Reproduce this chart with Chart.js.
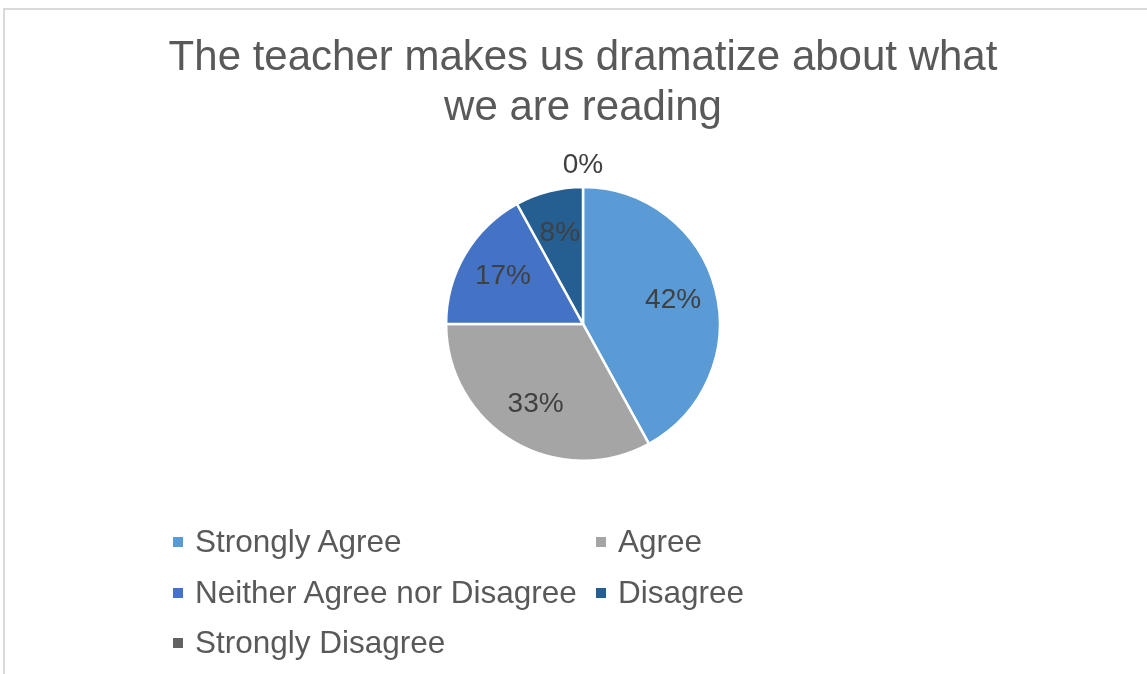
<!DOCTYPE html>
<html>
<head>
<meta charset="utf-8">
<script src="https://cdn.jsdelivr.net/npm/chart.js@4.4.0/dist/chart.umd.min.js"></script>
<style>
  body { margin: 0; background: #fff; font-family: "Liberation Sans", Arial, sans-serif; }
  #wrap { position: relative; width: 1147px; height: 674px; overflow: hidden; }
  #frame { position: absolute; left: 3px; top: 8px; width: 1160px; height: 700px; border: 2px solid #d9d9d9; box-sizing: border-box; }
  canvas { position: absolute; left: 0; top: 0; }
  .leg { position: absolute; font-size: 31.5px; color: #595959; white-space: nowrap; line-height: 32px; }
  .leg span.box { display: inline-block; width: 10px; height: 10px; margin-right: 12px; vertical-align: middle; position: relative; top: -2px; }
</style>
</head>
<body>
<div id="wrap">
  <div id="frame"></div>
  <canvas id="myChart" width="1147" height="674"></canvas>
  <div id="legend"></div>
</div>
<script>
const title = ["The teacher makes us dramatize about what", "we are reading"];
const labels = ["Strongly Agree", "Agree", "Neither Agree nor Disagree", "Disagree", "Strongly Disagree"];
const values = [42, 33, 17, 8, 0];
const colors = ["#5b9bd5", "#a5a5a5", "#4472c4", "#255e91", "#636363"];

// legend: two columns like the office chart
const legendCols = [173, 596];
const legendRows = [541, 592, 642];

function buildLegend() {
  let legend = document.getElementById("legend");
  labels.forEach((name, i) => {
    let item = document.createElement("div");
    item.className = "leg";
    item.style.left = legendCols[i % 2] + "px";
    item.style.top = (legendRows[Math.floor(i / 2)] - 16) + "px";
    item.innerHTML = '<span class="box" style="background:' + colors[i] + '"></span>' + name;
    legend.appendChild(item);
  });
}

// percent labels, zero slice goes outside
const sliceLabels = {
  id: "sliceLabels",
  afterDatasetsDraw(chart) {
    let ctx = chart.ctx;
    let meta = chart.getDatasetMeta(0);
    ctx.save();
    ctx.font = '28px "Liberation Sans", Arial, sans-serif';
    ctx.fillStyle = "#404040";
    ctx.textAlign = "center";
    ctx.textBaseline = "middle";
    meta.data.forEach((arc, i) => {
      let p = arc.getProps(["x", "y", "startAngle", "endAngle", "outerRadius"], true);
      let mid = (p.startAngle + p.endAngle) / 2;
      let r = values[i] === 0 ? p.outerRadius + 22 : p.outerRadius * 0.68;
      ctx.fillText(values[i] + "%", p.x + Math.cos(mid) * r, p.y + Math.sin(mid) * r);
    });
    ctx.restore();
  },
};

const ctx = document.getElementById("myChart");

new Chart(ctx, {
  type: "pie",
  data: {
    labels: labels,
    datasets: [
      {
        data: values,
        backgroundColor: colors,
        borderColor: "#ffffff",
        borderWidth: 2.5,
      },
    ],
  },
  options: {
    responsive: false,
    animation: false,
    events: [],
    layout: { padding: { left: 19, right: 0, top: 0, bottom: 212 } },
    plugins: {
      legend: { display: false },
      tooltip: { enabled: false },
      title: {
        display: true,
        text: title,
        color: "#595959",
        font: { family: '"Liberation Sans", Arial, sans-serif', size: 42, weight: "normal", lineHeight: 1.2 },
        padding: { top: 33, bottom: 52 },
      },
    },
  },
  plugins: [sliceLabels],
});

buildLegend();
</script>
</body>
</html>
